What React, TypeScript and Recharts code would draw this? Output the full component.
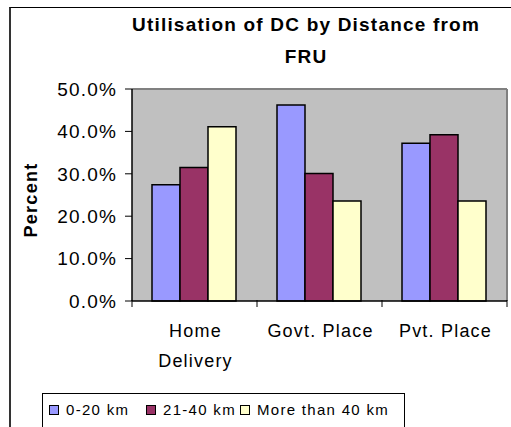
import { BarChart, Bar, XAxis, YAxis, CartesianGrid } from "recharts"

const categories = ["Home Delivery", "Govt. Place", "Pvt. Place"]
const seriesNames = ["0-20 km", "21-40 km", "More than 40 km"]
const near = [27.4, 46.2, 37.2]
const mid = [31.5, 30.1, 39.2]
const far = [41.1, 23.6, 23.6]
const yTicks = [0, 10, 20, 30, 40, 50]

const colors = ["#9999FF", "#993366", "#FFFFCC"]
const font = "'Liberation Sans', Arial, sans-serif"

const data = categories.map((name, i) => ({ name, near: near[i], mid: mid[i], far: far[i] }))

// category label + tick marks at the band edges (Excel style)
const CategoryTick = (props: any) => {
  const { x, y, payload, index, visibleTicksCount, width } = props
  const half = payload.offset || width / visibleTicksCount / 2
  const label: string = payload.value
  const lines = label.length > 12 ? label.split(" ") : [label]
  const top = y - 1
  return (
    <g>
      <line x1={x - half} x2={x - half} y1={top} y2={top + 7} stroke="#000" />
      {index === visibleTicksCount - 1 && (
        <line x1={x + half} x2={x + half} y1={top} y2={top + 7} stroke="#000" />
      )}
      <text x={x} y={y} textAnchor="middle" fontSize={18} letterSpacing={1.2} fontFamily={font} fill="#000">
        {lines.map((l, i) => (
          <tspan key={i} x={x + 1} dy={i === 0 ? 36 : 30}>{l}</tspan>
        ))}
      </text>
    </g>
  )
}

const YLabel = (props: any) => {
  const vb = props.viewBox
  const cy = vb.y + vb.height / 2 + 5
  return (
    <text x={37} y={cy} transform={`rotate(-90 37 ${cy})`} textAnchor="middle" fontSize={18}
      fontWeight="bold" letterSpacing={1.3} fontFamily={font} fill="#000">
      Percent
    </text>
  )
}

const legendLeft = [6, 103, 197]

export default function App() {
  return (
    <div style={{ position: "absolute", left: 0, top: 0, width: 511, height: 427, overflow: "hidden", background: "#fff", fontFamily: font }}>
      <div style={{ position: "absolute", left: 9, top: 7, width: 560, height: 480, borderLeft: "2px solid #333", borderTop: "1px solid #000" }} />
      <div style={{ position: "absolute", left: 106, top: 9, width: 400, textAlign: "center", fontSize: 19, fontWeight: "bold", letterSpacing: 1.2, lineHeight: "32px" }}>
        Utilisation of DC by Distance from<br />FRU
      </div>
      <div style={{ position: "absolute", left: 0, top: 0 }}>
        <BarChart width={511} height={427} data={data} margin={{ top: 89, right: 4, left: 0, bottom: 125 }}
          barGap={0} barCategoryGap={20}>
          <CartesianGrid fill="#C0C0C0" stroke="#808080" strokeWidth={2}
            horizontalCoordinatesGenerator={({ offset }: any) => [offset.top]}
            verticalCoordinatesGenerator={({ offset }: any) => [offset.left + offset.width]} />
          <XAxis dataKey="name" height={1} interval={0} tickLine={false} tickSize={0} tickMargin={0}
            axisLine={{ stroke: "#000", strokeWidth: 1.5 }} tick={<CategoryTick />} />
          <YAxis width={132} domain={[0, 50]} ticks={yTicks} interval={0} tickSize={7} tickMargin={8}
            tickFormatter={(v: number) => v.toFixed(1) + "%"}
            tick={{ fontSize: 19, fill: "#000", fontFamily: font, letterSpacing: 1.2 }}
            tickLine={{ stroke: "#000" }} axisLine={{ stroke: "#000", strokeWidth: 1.5 }}
            label={{ value: "Percent", content: <YLabel /> }} />
          <Bar dataKey="near" name={seriesNames[0]} fill={colors[0]} stroke="#000" strokeWidth={1.5} isAnimationActive={false} />
          <Bar dataKey="mid" name={seriesNames[1]} fill={colors[1]} stroke="#000" strokeWidth={1.5} isAnimationActive={false} />
          <Bar dataKey="far" name={seriesNames[2]} fill={colors[2]} stroke="#000" strokeWidth={1.5} isAnimationActive={false} />
        </BarChart>
      </div>
      <div style={{ position: "absolute", left: 42, top: 393, width: 361, height: 33, border: "1px solid #000", background: "#fff" }}>
        {seriesNames.map((s, i) => (
          <div key={s} style={{ position: "absolute", left: legendLeft[i], top: 10, display: "flex", alignItems: "center", fontSize: 15, letterSpacing: 1.3, lineHeight: "12px" }}>
            <span style={{ width: 8, height: 8, border: "1px solid #000", background: colors[i], marginRight: 7, display: "inline-block" }} />
            <span>{s}</span>
          </div>
        ))}
      </div>
    </div>
  )
}
